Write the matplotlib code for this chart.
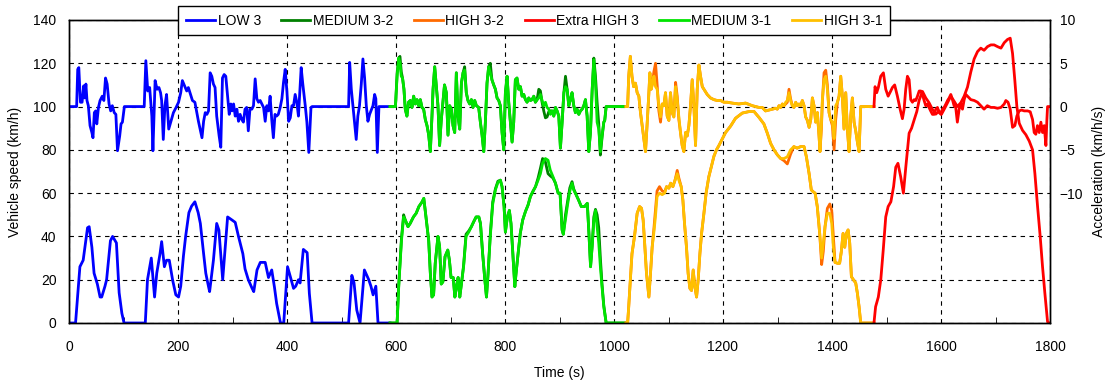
import matplotlib
matplotlib.use("Agg")
import matplotlib.pyplot as plt
from matplotlib.ticker import MultipleLocator

# ---------------- data ----------------
# Vehicle speed (km/h) keypoints: (time s, speed)
LOW3_SPEED = [(0, 0), (12, 0), (20, 26), (26, 29), (34, 44), (37, 44.5), (42, 35), (46, 23), (52, 18),
              (57, 12), (60, 12), (66, 17), (69, 20), (76, 38), (80, 40), (87, 37), (92, 14), (97, 4.5),
              (101, 0), (140, 0), (144, 20), (151, 30), (157, 12), (161, 23), (167, 32), (170, 37.6),
              (175, 26), (179, 29), (184, 29), (190, 20), (196, 13), (201, 12), (205, 17), (210, 31),
              (214, 40), (220, 51), (225, 54), (231, 56), (237, 51), (241, 46), (247, 32), (251, 23),
              (255, 18), (258, 14.5), (265, 29), (271, 46), (275, 43), (282, 20), (291, 49), (299, 47.6),
              (305, 46.5), (311, 40), (319, 32), (323, 25), (329, 20), (336, 16), (339, 14.5), (345, 24.5),
              (351, 28), (360, 28), (366, 21), (372, 24.5), (377, 16.5), (381, 9), (388, 0), (394, 0),
              (401, 26), (406, 21.5), (412, 16), (416, 17), (421, 20), (424, 18.5), (430, 34), (437, 32.5),
              (441, 13.7), (446, 0), (513, 0), (519, 22), (523, 18.5), (528, 6), (534, 0), (542, 24.5),
              (550, 20), (554, 17), (558, 13), (563, 17), (567, 0), (589, 0)]

# (time, MEDIUM 3-1, MEDIUM 3-2)
MEDIUM_SPEED = [(589, 0, 0), (602, 0, 0), (605, 16.8, 17.5), (610, 38, 39), (614, 49, 50), (617, 47.6, 47.6),
                (622, 44.5, 44.5), (626, 46, 46), (632, 49, 49), (637, 50.7, 50.7), (642, 53.8, 53.8),
                (648, 56, 56), (651, 57.6, 57.6), (655, 49, 49), (660, 38, 38), (663, 23, 23), (666, 12, 12),
                (669, 13, 13), (672, 27.6, 27.6), (677, 40, 40), (680, 35.4, 35.4), (683, 18, 18), (686, 19, 19),
                (690, 30.7, 30.7), (695, 33.7, 33.7), (698, 29, 29), (701, 21, 21), (705, 21, 21), (708, 12, 12),
                (711, 16.8, 16.8), (714, 21, 21), (717, 12, 12), (720, 18, 18), (724, 26, 26.5),
                (728.5, 40, 41), (733.4, 42, 42.5), (738.3, 44.5, 44.5), (742.6, 46.8, 46.8), (747, 49, 49),
                (752, 49, 49), (755, 46, 46), (759, 32, 32), (763, 20, 20), (766, 12, 12), (769, 23, 23),
                (773, 40, 41), (777.5, 55, 56), (782.4, 61.5, 62), (787, 65, 65.5), (791.5, 66, 66),
                (794.6, 63, 63), (798.3, 53.8, 53.8), (800.7, 42, 42), (804.4, 49, 49), (808, 52, 52),
                (811, 46, 46), (814, 33.7, 33.7), (818, 16.8, 16.8), (820.3, 23, 23), (824, 32, 32),
                (828, 41.4, 41.4), (832.5, 47.6, 47.6), (837.5, 51.5, 51.5), (842.3, 54.5, 54.5),
                (846.6, 58.4, 58.4), (851, 60.7, 60.7), (856, 63, 63), (860.7, 66, 67), (865, 69, 71.5),
                (869, 73.8, 76), (874, 76, 74.5), (879, 75.2, 69), (883, 70.7, 68), (888, 67.6, 67),
                (892.6, 64.6, 64.6), (897.5, 60, 60), (901, 60, 60), (904.8, 43, 43), (907, 41, 41),
                (911, 48, 50), (915, 55, 56.5), (919, 61, 62.5), (923, 64.6, 65.3), (926, 61.5, 62),
                (931, 59, 59), (935, 56.8, 56.8), (940, 53.8, 53.8), (946, 53.8, 53.8), (951, 55.3, 55.3),
                (954, 41.4, 41.4), (957, 26, 26), (960, 35.4, 36), (963, 47.6, 49), (966, 52, 52.5),
                (969, 44.5, 50), (972, 37, 44), (975, 26, 30), (978, 16.8, 18), (981.3, 7.5, 8),
                (985.6, 0, 0), (1022, 0, 0)]

# (time, HIGH 3-1, HIGH 3-2)
HIGH_SPEED = [(1022, 0, 0), (1025, 0, 0), (1027, 7.5, 7.5), (1030, 20, 20), (1033, 32, 32), (1037.6, 40, 40),
              (1042.5, 50.7, 50.7), (1047, 53.8, 53.8), (1050.5, 53, 53), (1053.5, 47.6, 47.6),
              (1056.6, 35.4, 35.4), (1059.6, 23, 23), (1064, 12, 12), (1067, 23, 23), (1070, 35, 35),
              (1073, 41.4, 43), (1076, 49, 52), (1079, 58.4, 61), (1083.5, 60, 63), (1088.4, 59.3, 61),
              (1093, 60, 60.5), (1096.4, 63, 63), (1100.7, 62.3, 62.3), (1104, 64.6, 64.6), (1108, 63, 63),
              (1112, 66, 66), (1116, 69, 70.5), (1119, 66, 67), (1123.3, 63, 63), (1126.4, 56.8, 56.8),
              (1129.4, 46, 46), (1133, 35, 35), (1136, 23, 23), (1139.2, 16, 16), (1142.3, 15, 15),
              (1145.3, 24.5, 24.5), (1148.4, 16.8, 16.8), (1151.5, 12, 12), (1154.5, 20, 20),
              (1157.6, 32, 32), (1160.7, 41.4, 41.4), (1165, 50.7, 50.7), (1169, 60, 60), (1174, 67.6, 67.6),
              (1178.4, 72, 72), (1183.3, 77, 77), (1188, 80, 80), (1192.5, 82, 82), (1198.6, 85, 85),
              (1204.7, 88, 88), (1214, 91, 91), (1223, 94.6, 94.6), (1235.4, 97, 97), (1248, 97.7, 97.7),
              (1257, 97.7, 97.7), (1266, 95, 95), (1275, 92, 92), (1281.3, 87.7, 87.7), (1287.4, 83, 83),
              (1293.6, 80, 80), (1299.7, 77.7, 77.7), (1305.8, 76, 76), (1312, 76, 75), (1318, 76.8, 73.5),
              (1324, 80, 78), (1330, 81.5, 81.5), (1336, 80.8, 80.8), (1342.5, 81.5, 81.5),
              (1348.7, 81.5, 81.5), (1353, 76.8, 76.8), (1358, 69, 69), (1362, 61.5, 61.5),
              (1365.2, 60.7, 60.7), (1369, 60, 60), (1373, 53.8, 53.8), (1377.4, 41.4, 41.4),
              (1381, 30, 27), (1384, 36.9, 33), (1387.2, 44.5, 44.5), (1391.5, 50.7, 53), (1396, 50.7, 55),
              (1399.5, 46, 52), (1402.5, 35, 40), (1405.6, 28, 28), (1410, 27.6, 27.6), (1414, 27.6, 27.6),
              (1417, 32.8, 32.8), (1420.3, 41.4, 41.4), (1423.4, 35, 35), (1426.4, 41.4, 41.4),
              (1429.5, 43, 43), (1432.5, 37, 37), (1435.6, 21.4, 21.4), (1439.3, 20, 20),
              (1443.5, 18.5, 18.5), (1446.6, 13.7, 13.7), (1449.7, 7.5, 7.5), (1452.7, 0, 0), (1477, 0, 0)]

EXTRA_HIGH3_SPEED = [(1477, 0), (1480, 7.5), (1485, 12), (1489.5, 20), (1494, 33.7), (1498.6, 49), (1503, 53.8),
                     (1508, 56), (1513, 63), (1517, 72), (1521, 73.8), (1526, 67.6), (1531, 60), (1535.4, 72),
                     (1541.5, 87.7), (1546, 90), (1550.7, 93.8), (1555.6, 97.7), (1560, 103), (1566, 107),
                     (1572, 104), (1578, 101.8), (1584.3, 98.7), (1590.4, 96.5), (1596.6, 98), (1601, 96.5),
                     (1605.7, 98.7), (1612, 101.8), (1618, 104.8), (1624, 102.5), (1630, 100), (1636.4, 101.8),
                     (1642.5, 104.8), (1648.6, 109), (1654.7, 116), (1660.8, 122), (1667, 125.4), (1673, 127),
                     (1679, 126), (1685.3, 127.7), (1691.5, 128.5), (1697.5, 128.5), (1703.7, 127.7),
                     (1710, 127), (1716, 129.5), (1722, 131), (1727, 131.6), (1731.3, 124.5), (1735.5, 112),
                     (1739.2, 100), (1743.5, 92.3), (1749.6, 89), (1755.7, 87), (1762, 84), (1768, 80),
                     (1772.3, 69), (1777.2, 53.8), (1782, 40), (1786.3, 26), (1790.6, 13.7), (1795.5, 0.6),
                     (1797, 0), (1800, 0)]

# Acceleration (km/h/s) keypoints
LOW3_ACCEL = [(0, 0), (14, 0), (16, 4.3), (18, 4.5), (21, 0.5), (24, 0.5), (27, 2.4), (29, 1.0), (31, 2.6),
              (33, 0.7), (35.5, 0.1), (38.6, -2.2), (42, -3.0), (44, -3.6), (46.5, -0.7), (49, -0.5), (51, -2.0),
              (54, -0.1), (57, 0.7), (61, 1.2), (64, 0.7), (67, 3.3), (70, 2.6), (73.5, 0.3), (76.5, -0.5),
              (79.5, 0.1), (83, -0.7), (86, -0.9), (89, -5.1), (93, -3.4), (95.5, -2.0), (98, -1.8), (101.6, 0),
              (138, 0), (141, 5.3), (144.5, 1.8), (148, 2.2), (152, -1.1), (154, -5.1), (158, 3.0),
              (161.6, 2.0), (165, 2.2), (168, 1.6), (170, 0.7), (173, -3.8), (176, 0.1), (179, 1.4),
              (183, -2.6), (187, -1.7), (191.6, -0.7), (196.5, -0.1), (201, 0.5), (205, 1.6), (208, 3.0),
              (212, 2.4), (216, 1.8), (219, 2.2), (223, 1.4), (226.5, 0.7), (231, 0.5), (234, -0.5),
              (237.5, -1.7), (240.6, -2.6), (244, -3.6), (247, -1.7), (250, -0.7), (253, -0.9), (256, -0.5),
              (259, 3.9), (262, 3.5), (265, 2.6), (268, 2.2), (271, -1.1), (275.5, -3.4), (278.5, -4.7),
              (281.6, 3.3), (284.7, 3.7), (287.7, 3.5), (291, 1.2), (294, -0.9), (297, 0.3), (299, -0.5),
              (302, 0.3), (305, -1.1), (308, -0.3), (311, -1.7), (314, -0.9), (317, -1.5), (320, -1.8),
              (323, -0.3), (326, -0.1), (329, -2.8), (332, -0.3), (335.5, -0.3), (338.5, 0.1), (341.6, 3.2),
              (344.7, 0.9), (347.7, 0.5), (350.8, 0.7), (354, 0.3), (357, -0.1), (360, -1.7), (363, 0.1),
              (366, -0.5), (369, 1.2), (372, -1.5), (375, -3.6), (378, -0.9), (381, -1.1), (384, -0.9),
              (387.5, -0.1), (390.6, 0.9), (393.6, 2.8), (396.7, 4.3), (400, 1.6), (403, -1.7), (406, -1.3),
              (409, 0.1), (412, 0.1), (415, 1.4), (418, 0.5), (421, -1.1), (424, 2.4), (426, 4.5), (429, 2.6),
              (433.5, 0.1), (436.5, -1.8), (440, -5.3), (444, -0.1), (446, 0), (513, 0), (515, 5.1),
              (518, 2.0), (521, 0.1), (523, -1.1), (527, -3.8), (530, -1.1), (533, 0.1), (536.3, 2.6),
              (539.3, 5.5), (542.4, 3.3), (545.5, 0.1), (548.5, -1.7), (551.6, -0.9), (554, -0.5),
              (557.7, 0.1), (560.8, 1.4), (563, 0.9), (565.7, -5.3), (568.7, 0), (589, 0)]

# (time, MEDIUM 3-1, MEDIUM 3-2)
MEDIUM_ACCEL = [(589, 0, 0), (599, 0, 0), (602, 3.5, 3.8), (605, 5.6, 5.6), (607.3, 5.0, 5.8), (609.7, 3.5, 4.0),
                (612, 3.3, 3.3), (614.6, 2.0, 2.0), (617, -0.3, -0.3), (620, -1.1, -1.1), (623, 0.5, 0.5),
                (626.3, 0.7, 0.7), (629.3, -0.1, -0.1), (632.4, 1.2, 1.2), (635.4, 0.3, 0.3), (638.5, 0.8, 0.8),
                (641.6, 0.1, 0.1), (644.6, 0.8, 0.8), (647.7, -0.1, -0.1), (650.7, -0.3, -0.3),
                (653.8, -1.5, -1.5), (656.9, -2.2, -2.2), (660, -3.3, -3.3), (663, -5.2, -5.2), (666, -1.1, -1.1),
                (668, 2.0, 2.0), (671, 4.6, 4.6), (674, 2.3, 2.3), (677, 0.1, 0.1), (680, -4.5, -4.5),
                (683, -1.6, -1.6), (686, 0.5, 0.5), (689, 2.5, 2.5), (692.4, 1.6, 1.6), (695.4, -3.3, -3.3),
                (698.5, 0.1, 0.1), (701.5, -0.3, -0.3), (704.6, -2.2, -2.2), (707.7, -3.0, -3.0),
                (710.7, 3.9, 3.9), (713.8, -1.1, -1.1), (716.9, -2.6, -2.6), (720, 2.7, 2.7), (723, 3.9, 3.9),
                (726, 4.2, 4.6), (729, 1.6, 1.6), (732, 0.7, 0.7), (735.2, 0.3, 0.3), (738.3, 0.8, 0.8),
                (741.3, -0.1, -0.1), (744.4, 0.7, 0.7), (747.5, 0.1, 0.1), (751.7, -0.1, -0.1),
                (754.8, -1.8, -1.8), (757.9, -3.3, -3.3), (761, -5.2, -5.2), (764, -1.8, -1.8), (767, 2.7, 2.7),
                (770, 4.6, 4.6), (773, 3.9, 5.0), (776, 3.1, 3.1), (779.3, 2.5, 2.5), (782.4, 2.0, 2.0),
                (785.4, 1.0, 1.0), (788.5, 0.7, 0.7), (791.5, 0.1, 0.1), (794.6, -3.0, -3.0), (797.7, -5.0, -5.0),
                (800.7, 1.6, 1.6), (803.8, 3.5, 3.5), (806.8, 0.5, 0.5), (810, -1.8, -1.8), (813, -4.1, -4.1),
                (816, -1.8, -1.8), (819, 3.1, 3.1), (822, 3.3, 3.3), (825.2, 2.0, 2.0), (828.3, 2.3, 2.3),
                (831.3, 1.2, 1.2), (834.4, 1.4, 1.4), (837.5, 0.8, 0.8), (840.5, 0.5, 0.5), (843.6, 1.0, 1.0),
                (846.6, 0.7, 0.7), (849.7, 0.8, 0.8), (852.8, 1.2, 1.2), (855.8, 0.5, 0.5), (858.9, 0.8, 0.8),
                (862, 1.0, 2.0), (865, 1.4, 1.8), (868, 0.7, 0.5), (871.1, 0.1, -0.5), (874.2, 0.5, -1.3),
                (877.2, -0.1, -1.2), (880.3, -0.3, -0.6), (883.4, -0.9, -0.5), (886.4, -0.5, -0.5),
                (889.5, -1.1, -1.1), (892.6, -0.1, -0.1), (895.6, -0.5, -0.5), (898.7, -1.1, -1.1),
                (901.7, -4.8, -4.8), (904.8, -1.8, -1.8), (908, 1.6, 1.6), (911, 2.3, 3.5), (914, 2.0, 2.0),
                (917, 0.1, 0.1), (920, 0.8, 0.8), (923, 1.6, 1.6), (926.2, 0.1, 0.1), (929.2, -0.7, -0.7),
                (932.3, -0.3, -0.3), (935.4, -0.9, -0.9), (938.4, -0.5, -0.5), (941.5, -0.3, -0.3),
                (944.6, 0.1, 0.1), (947.6, 0.8, 0.8), (950.7, -1.1, -1.1), (953.7, -5.2, -5.2),
                (956.8, -3.0, -3.0), (960, 2.0, 2.0), (963, 5.4, 5.6), (966, 2.7, 3.5), (969, -1.8, 0.5),
                (972, -2.6, -2.0), (975, -5.2, -5.6), (978.2, -3.3, -3.5), (981.3, -1.8, -1.8),
                (983, -1.6, -1.6), (985.6, 0, 0), (1022, 0, 0)]

# (time, HIGH 3-1, HIGH 3-2)
HIGH_ACCEL = [(1022, 0, 0), (1025, 0, 0), (1027, 3.5, 3.5), (1030, 5.8, 5.8), (1033, 3.5, 3.5), (1036, 2.3, 2.3),
              (1039.4, 2.7, 2.7), (1042.5, 1.6, 1.6), (1045.6, 1.2, 1.2), (1048.6, -0.7, -0.7),
              (1051.7, -2.2, -2.2), (1054.7, -3.7, -3.7), (1057.8, -5.2, -5.2), (1061, -1.8, -1.8),
              (1064, 1.6, 1.6), (1065.8, 3.9, 3.9), (1068.2, 2.0, 2.0), (1070.7, 2.7, 2.7), (1073.1, 3.5, 4.0),
              (1076.2, 2.3, 5.0), (1079.2, 2.0, 2.5), (1082.3, 0.1, -0.5), (1085.4, -1.2, -1.8),
              (1088.4, 0.3, 0.3), (1091.5, 0.1, 0.1), (1094.5, 1.6, 1.6), (1097.6, -1.1, -1.1),
              (1100.7, -1.6, -1.6), (1103.7, 1.6, 1.6), (1106.8, -0.7, -0.7), (1109.8, -1.2, -1.2),
              (1113, 2.3, 2.8), (1116, 0.8, 1.2), (1119, -1.2, -1.5), (1122, -3.0, -3.0), (1125.1, -4.5, -4.5),
              (1128.2, -5.2, -5.2), (1131.3, -3.0, -3.0), (1134.3, -3.4, -3.4), (1137.4, -2.2, -2.2),
              (1140.4, 0.1, 0.1), (1143.5, 3.1, 3.1), (1146.6, 0.1, 0.1), (1149.6, -4.5, -4.5),
              (1152.7, 2.0, 2.0), (1155.8, 4.8, 4.8), (1158.8, 3.5, 3.5), (1162, 2.3, 2.3), (1165, 2.0, 2.0),
              (1171, 1.4, 1.4), (1177, 1.0, 1.0), (1183.3, 0.8, 0.8), (1189.4, 0.7, 0.7), (1195.5, 0.7, 0.7),
              (1201.7, 0.5, 0.5), (1208, 0.5, 0.5), (1217, 0.4, 0.4), (1229, 0.3, 0.3), (1241.5, 0.4, 0.4),
              (1253.8, 0.1, 0.1), (1266, -0.1, -0.1), (1272, -0.1, -0.1), (1278, -0.5, -0.5),
              (1284.4, -0.4, -0.4), (1290.5, -0.3, -0.3), (1296.6, -0.2, -0.2), (1299.7, -0.3, -0.3),
              (1302.7, 0.1, 0.1), (1305.8, -0.1, -0.1), (1309, 0.3, 0.3), (1312, 0.1, 0.1), (1315, 0.5, 0.3),
              (1318, 0.7, 0.5), (1321.1, 1.6, 2.0), (1324, 0.7, 0.9), (1327.2, 0.1, 0.1), (1330.3, -0.1, -0.1),
              (1333.4, 0.5, 0.5), (1336.4, 0.1, 0.1), (1339.5, 0.3, 0.3), (1342.5, 0.1, 0.1),
              (1345.6, 0.7, 0.7), (1348.7, 0.1, 0.1), (1351.7, -1.2, -1.2), (1354.8, -1.6, -1.6),
              (1358, -2.4, -2.4), (1361, -1.5, -1.5), (1364, 1.0, 1.0), (1367, 0.1, 0.1), (1370, -1.8, -1.8),
              (1373.2, -0.7, -0.7), (1376.2, -3.4, -3.4), (1378, -5.2, -5.2), (1380.5, -2.2, -2.6),
              (1382.3, 0.8, 0.5), (1385.4, 3.1, 3.9), (1388.5, 3.5, 4.2), (1391.5, 2.0, 2.5),
              (1394.6, -0.7, -0.7), (1397.6, -1.5, -1.5), (1400.7, -1.8, -2.2), (1403.8, -3.7, -5.0),
              (1406.8, 0.1, -1.5), (1410, 0.5, 0.5), (1413, 1.2, 1.2), (1416, 3.5, 3.5), (1419, 1.2, 1.2),
              (1422.1, -2.6, -2.6), (1425.2, 1.6, 1.6), (1428.2, -2.6, -2.6), (1431.3, -5.2, -5.2),
              (1434.4, -1.1, -1.1), (1437.4, 1.0, 1.0), (1440.5, -1.8, -1.8), (1443.5, -2.8, -2.8),
              (1446.6, -4.1, -4.1), (1449.7, -5.2, -5.2), (1452.7, 0, 0), (1477, 0, 0)]

EXTRA_HIGH3_ACCEL = [(1477, 0), (1479, 2.3), (1482, 1.6), (1485, 2.2), (1489.4, 3.5), (1494.3, 3.9), (1498.6, 2.0),
                     (1503, 1.2), (1507.8, 1.8), (1510.8, 2.2), (1515, 2.5), (1520, 1.2), (1525, -0.3),
                     (1529.2, -1.4), (1532.3, -0.3), (1535.3, 2.0), (1538.4, 3.5), (1541.5, 3.1), (1544.5, 0.8),
                     (1547.6, 0.5), (1550.7, 0.8), (1553.7, 0.7), (1556.8, 1.2), (1560, 1.8), (1563, 1.8),
                     (1566, 1.4), (1569, 0.7), (1572, 0.1), (1575, 0.3), (1578, -0.1), (1581, -0.5),
                     (1584.3, -0.9), (1587.4, -0.9), (1590.4, -0.3), (1593.5, -0.1), (1596.6, -0.7), (1600, -0.9),
                     (1602.7, -0.3), (1605.7, -0.1), (1609, 0.3), (1612, 0.7), (1615, 1.0), (1618, 1.4),
                     (1621, 0.8), (1624, 0.1), (1627, -0.1), (1630, -1.8), (1633.3, -0.3), (1636.4, 0.3),
                     (1639.4, -0.3), (1642.5, 0.8), (1645.5, 1.4), (1648.6, 1.2), (1651.7, 1.0), (1654.7, 0.8),
                     (1661, 0.7), (1667, 0.5), (1673, 0.1), (1679, -0.3), (1685, 0.1), (1691.5, -0.1),
                     (1697.5, -0.1), (1703.7, -0.2), (1710, -0.1), (1716, 0.3), (1719, 0.7), (1723, 0.5),
                     (1727, -0.3), (1731.3, -2.4), (1735.5, -2.2), (1739.2, -1.1), (1743.5, -0.5), (1747.8, -0.4),
                     (1752.7, -0.5), (1758.8, -0.5), (1763.7, -0.6), (1768, -1.5), (1771, -3.0), (1774, -3.2),
                     (1777, -2.2), (1780.2, -3.0), (1783.3, -1.8), (1786.3, -3.0), (1789.4, -2.2),
                     (1792.5, -4.5), (1794.3, -1.5), (1795.5, 0), (1800, 0)]

LABELS = ["LOW 3", "MEDIUM 3-2", "HIGH 3-2", "Extra HIGH 3", "MEDIUM 3-1", "HIGH 3-1"]
X_TICKS = [0, 200, 400, 600, 800, 1000, 1200, 1400, 1600, 1800]
SPEED_TICKS = [0, 20, 40, 60, 80, 100, 120, 140]
ACCEL_TICKS = [-10, -5, 0, 5, 10]

# ---------------- styling ----------------
COLORS = {"LOW 3": "#0000FF", "MEDIUM 3-2": "#008000", "HIGH 3-2": "#FF6A00",
          "Extra HIGH 3": "#FF0000", "MEDIUM 3-1": "#00E400", "HIGH 3-1": "#FFC000"}
LW = 2.0

plt.rcParams["font.family"] = ["Liberation Sans", "DejaVu Sans"]
plt.rcParams["font.size"] = 10

fig = plt.figure(figsize=(11.10, 3.85), dpi=100)
ax = fig.add_axes([69 / 1110, 1 - 323 / 385, (1050 - 69) / 1110, (323 - 20) / 385])
ax2 = ax.twinx()


def cols(rows, k):
    return [r[k] for r in rows]


series = [
    ("LOW 3", LOW3_SPEED, 1, LOW3_ACCEL, 1),
    ("MEDIUM 3-2", MEDIUM_SPEED, 2, MEDIUM_ACCEL, 2),
    ("MEDIUM 3-1", MEDIUM_SPEED, 1, MEDIUM_ACCEL, 1),
    ("HIGH 3-2", HIGH_SPEED, 2, HIGH_ACCEL, 2),
    ("HIGH 3-1", HIGH_SPEED, 1, HIGH_ACCEL, 1),
    ("Extra HIGH 3", EXTRA_HIGH3_SPEED, 1, EXTRA_HIGH3_ACCEL, 1),
]
handles = {}
for name, sp, ks, ac, ka in series:
    h, = ax.plot(cols(sp, 0), cols(sp, ks), color=COLORS[name], lw=LW, solid_joinstyle="round")
    ax2.plot(cols(ac, 0), cols(ac, ka), color=COLORS[name], lw=LW, solid_joinstyle="round")
    handles[name] = h

ax.set_xlim(0, 1800)
ax.set_ylim(0, 140)
ax2.set_ylim(-25, 10)
ax.set_xticks(X_TICKS)
ax.xaxis.set_minor_locator(MultipleLocator(100))
ax.set_yticks(SPEED_TICKS)
ax2.set_yticks(ACCEL_TICKS)

ax.grid(True, which="major", color="black", linestyle=(0, (4, 4)), linewidth=0.8)
ax.tick_params(axis="x", which="both", direction="in", pad=12, labelsize=10)
ax.tick_params(axis="x", which="major", length=0)
ax.tick_params(axis="x", which="minor", length=4)
ax.tick_params(axis="y", direction="in", length=0, pad=9, labelsize=10)
ax2.tick_params(axis="y", direction="in", length=0, pad=7, labelsize=10)
for a in (ax, ax2):
    for s in a.spines.values():
        s.set_linewidth(1.0)
        s.set_color("black")

ax.set_xlabel("Time (s)", fontsize=10)
ax.xaxis.set_label_coords(0.5, (323 - 366) / 303)
ax.set_ylabel("Vehicle speed (km/h)", fontsize=10)
ax.yaxis.set_label_coords((22 - 69) / 981, 0.5)
ax2.set_ylabel("Acceleration (km/h/s)", fontsize=10)
ax2.yaxis.set_label_coords((1092 - 69) / 981, 0.5)

leg = fig.legend([handles[n] for n in LABELS], LABELS, loc="upper center",
                 bbox_to_anchor=(534 / 1110, 1 - 6 / 385), ncol=6, frameon=True, fancybox=False,
                 edgecolor="black", framealpha=1, handlelength=2.1, handletextpad=0.2,
                 columnspacing=1.45, borderpad=0.55, borderaxespad=0, fontsize=10)
leg.get_frame().set_linewidth(1.0)

fig.savefig("out.png", dpi=100)
